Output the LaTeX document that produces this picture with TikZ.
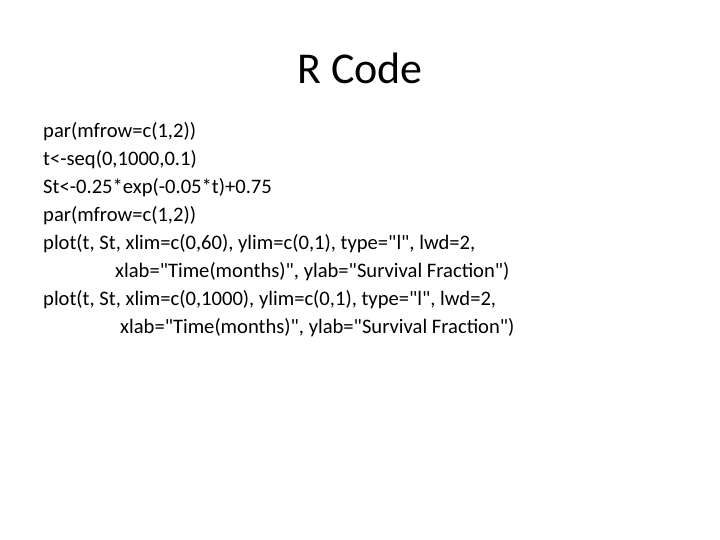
\documentclass[tikz,border=0pt]{standalone}
\usepackage{fontspec}
\setmainfont{Carlito}
\newfontfamily\codefont{Carlito}
\begin{document}
\begin{tikzpicture}[x=1pt,y=-1pt,body/.style={anchor=west,inner sep=0pt,font=\codefont\fontsize{20.6}{25}\selectfont}]
\useasboundingbox (0,0) rectangle (720,540);
\node[inner sep=0pt,font=\codefont\fontsize{44}{52}\selectfont] (title) at (360,68) {R Code};
\node[body] (l1) at (43,132) {par(mfrow=c(1,2))};
\node[body] (l2) at (43,160) {t<-seq(0,1000,0.1)};
\node[body] (l3) at (43,188) {St<-0.25*exp(-0.05*t)+0.75};
\node[body] (l4) at (43,216) {par(mfrow=c(1,2))};
\node[body] (l5) at (43,244) {plot(t, St, xlim=c(0,60), ylim=c(0,1), type="l", lwd=2,};
\node[body] (l6) at (115,272) {xlab="Time(months)", ylab="Survival Fraction")};
\node[body] (l7) at (43,300) {plot(t, St, xlim=c(0,1000), ylim=c(0,1), type="l", lwd=2,};
\node[body] (l8) at (120,328) {xlab="Time(months)", ylab="Survival Fraction")};
\end{tikzpicture}
\end{document}
